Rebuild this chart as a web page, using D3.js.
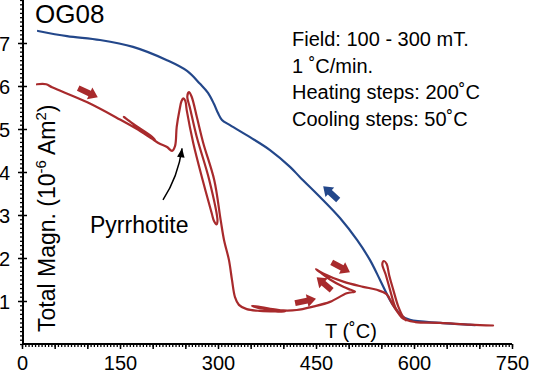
<!DOCTYPE html>
<html>
<head>
<meta charset="utf-8">
<script src="https://cdn.jsdelivr.net/npm/d3@7"></script>
<style>
  html, body { margin: 0; padding: 0; background: #fff; }
  svg { display: block; font-family: "Liberation Sans", Arial, Helvetica, sans-serif; }
</style>
</head>
<body>
<svg id="chart" width="533" height="374"></svg>
<script>
// Axis tick labels
const xTicks = [0, 150, 300, 450, 600, 750];
const yTicks = [1, 2, 3, 4, 5, 6, 7];

// Cooling curve (blue): temperature (°C) and total magnetisation (1e-6 Am²)
const coolT = [24.5, 68.9, 119.4, 169.9, 221.9, 252.6, 272.5, 284.7, 293.9, 300, 306.1, 318.4, 349, 379.6,
  410.2, 425.5, 456.1, 486.7, 512.8, 532.7, 548, 563.3, 570.9, 581.6, 593.9, 639.8, 693.4];
const coolM = [7.28, 7.16, 7.07, 6.91, 6.6, 6.35, 6.05, 5.84, 5.58, 5.37, 5.21, 5.09, 4.81, 4.51,
  4.12, 3.88, 3.42, 2.93, 2.42, 1.95, 1.49, 1.02, 0.84, 0.65, 0.56, 0.49, 0.44];

// Stepwise heating curve (red) with partial cooling loops
const heatT = [23, 37, 46, 100, 150, 178, 204, 199, 173, 156, 163, 208, 222, 229.6, 234.2, 236.8, 241.1,
  244.2, 246.9, 250, 252.1, 262.2, 276.6, 290.4, 293.9, 297.7, 299.2, 286.7, 267.4, 257.1, 253, 255.6,
  259.7, 267.9, 277.5, 294.3, 304.1, 309.2, 316.8, 321.4, 326, 332, 344, 364, 403, 380, 352, 366, 400,
  420.5, 445.4, 471.4, 497, 509.7, 503, 491.8, 471.4, 456, 450, 461, 491.8, 522, 543, 558, 566, 573,
  581, 588, 579, 571, 563.3, 557, 551.5, 554, 558.2, 562, 568.3, 576, 583.6, 590, 602, 640, 686, 721];
const heatM = [6.04, 6.04, 5.97, 5.62, 5.22, 4.98, 4.73, 4.82, 5.09, 5.28, 5.2, 4.68, 4.58, 4.49, 4.6, 5.05, 5.44,
  5.65, 5.71, 5.65, 5.44, 4.67, 3.81, 3.04, 2.86, 2.78, 2.86, 3.81, 4.82, 5.49, 5.75, 5.86,
  5.75, 5.26, 4.67, 3.81, 2.88, 2.42, 1.95, 1.49, 1.09, 0.91, 0.81, 0.77, 0.76, 0.82, 0.89, 0.83, 0.78,
  0.79, 0.87, 0.98, 1.18, 1.22, 1.26, 1.33, 1.5, 1.67, 1.74, 1.64, 1.45, 1.33, 1.26, 1.16, 0.95, 0.78,
  0.62, 0.55, 0.66, 0.87, 1.26, 1.6, 1.86, 1.93, 1.86, 1.6, 1.26, 0.87, 0.63, 0.55, 0.51, 0.49, 0.45, 0.43];

// Direction arrows: [T start, M start, T end, M end]
const heatArrows = [
  [86, 5.95, 116, 5.74],
  [418, 0.95, 450, 1.05],
  [474, 1.25, 451, 1.55],
  [474, 1.90, 502, 1.67]
];
const coolArrows = [
  [484, 3.35, 461, 3.67]
];

const infoLines = ["Field: 100 - 300 mT.", "1 ˚C/min.", "Heating steps: 200˚C", "Cooling steps: 50˚C"];

const RED = "#a82a2c";
const BLUE = "#23478a";

const svg = d3.select("#chart");
const x = d3.scaleLinear().domain([0, 750]).range([22, 512]);
const y = d3.scaleLinear().domain([0, 8]).range([344, 0]);

// ---- axes ----
const xMinor = svg.append("g").attr("transform", "translate(0,344)")
  .call(d3.axisBottom(x).tickValues(d3.range(0, 751, 5)).tickSize(3).tickFormat(""));
xMinor.select(".domain").remove();
xMinor.selectAll("line").attr("stroke-width", 1.3);

const xMajor = svg.append("g").attr("transform", "translate(0,344)")
  .call(d3.axisBottom(x).tickValues(d3.range(0, 751, 50)).tickSize(5)
    .tickFormat(d => xTicks.includes(d) ? d : ""));
xMajor.select(".domain").attr("d", `M${x(0)},0H${x(750)}`).attr("stroke-width", 2);
xMajor.selectAll("line").attr("stroke-width", 1.5);
xMajor.selectAll("text").attr("font-size", 20).attr("fill", "#000").attr("y", 12)
  .attr("font-family", "Liberation Sans, Arial, sans-serif");

const yMinor = svg.append("g").attr("transform", "translate(23,0)")
  .call(d3.axisLeft(y).tickValues(d3.range(0, 80.5, 1).map(v => v / 10)).tickSize(3).tickFormat(""));
yMinor.select(".domain").remove();
yMinor.selectAll("line").attr("stroke-width", 1.3);

const yMajor = svg.append("g").attr("transform", "translate(23,0)")
  .call(d3.axisLeft(y).tickValues(yTicks).tickSize(4).tickFormat(d3.format("d")));
yMajor.select(".domain").attr("d", `M0,${y(0)}V${y(8)}`).attr("stroke-width", 2);
yMajor.selectAll("line").attr("x1", 4).attr("x2", -5).attr("stroke-width", 1.5);
yMajor.selectAll("text").attr("font-size", 20).attr("fill", "#000").attr("x", -13).attr("dy", "0.36em")
  .attr("font-family", "Liberation Sans, Arial, sans-serif");

// ---- curves ----
const line = d3.line().x(d => x(d[0])).y(d => y(d[1])).curve(d3.curveCatmullRom.alpha(0.5));

svg.append("path").datum(d3.zip(coolT, coolM))
  .attr("d", line).attr("fill", "none").attr("stroke", BLUE).attr("stroke-width", 2.2)
  .attr("stroke-linejoin", "round").attr("stroke-linecap", "round");

svg.append("path").datum(d3.zip(heatT, heatM))
  .attr("d", line).attr("fill", "none").attr("stroke", RED).attr("stroke-width", 2.2)
  .attr("stroke-linejoin", "round").attr("stroke-linecap", "round");

// ---- block arrows showing the direction of each run ----
function blockArrow(a) {
  const x0 = x(a[0]), y0 = y(a[1]), x1 = x(a[2]), y1 = y(a[3]);
  const L = Math.hypot(x1 - x0, y1 - y0);
  const ux = (x1 - x0) / L, uy = (y1 - y0) / L, nx = -uy, ny = ux;
  const sw = 3, hw = 6.5, hl = 9;
  const pts = [
    [x0 + nx * sw, y0 + ny * sw],
    [x1 - ux * hl + nx * sw, y1 - uy * hl + ny * sw],
    [x1 - ux * hl + nx * hw, y1 - uy * hl + ny * hw],
    [x1, y1],
    [x1 - ux * hl - nx * hw, y1 - uy * hl - ny * hw],
    [x1 - ux * hl - nx * sw, y1 - uy * hl - ny * sw],
    [x0 - nx * sw, y0 - ny * sw]
  ];
  return "M" + pts.map(p => p.join(",")).join("L") + "Z";
}
svg.selectAll(".harrow").data(heatArrows).join("path").attr("class", "harrow")
  .attr("d", blockArrow).attr("fill", RED);
svg.selectAll(".carrow").data(coolArrows).join("path").attr("class", "carrow")
  .attr("d", blockArrow).attr("fill", BLUE);

// ---- Pyrrhotite annotation ----
const tail = [x(215.8), y(3.35)], ctrl = [x(239), y(3.9)], tip = [x(245), y(4.55)];
svg.append("path")
  .attr("d", `M${tail}Q${ctrl} ${tip}`)
  .attr("fill", "none").attr("stroke", "#000").attr("stroke-width", 1.5);
{
  const ang = Math.atan2(tip[1] - ctrl[1], tip[0] - ctrl[0]);
  const hl = 9, hw = 3.8;
  const bx = tip[0] - Math.cos(ang) * hl, by = tip[1] - Math.sin(ang) * hl;
  const nx = -Math.sin(ang), ny = Math.cos(ang);
  svg.append("path")
    .attr("d", `M${tip}L${bx + nx * hw},${by + ny * hw}L${bx - nx * hw},${by - ny * hw}Z`)
    .attr("fill", "#000");
}
svg.append("text").attr("x", 90).attr("y", 233).attr("font-size", 23).text("Pyrrhotite");

// ---- titles and notes ----
svg.append("text").attr("x", 35).attr("y", 23).attr("font-size", 26).text("OG08");

svg.append("g").selectAll("text").data(infoLines).join("text")
  .attr("x", 292).attr("y", (d, i) => 46 + i * 26.7).attr("font-size", 20).text(d => d);

svg.append("text").attr("x", 325).attr("y", 338).attr("font-size", 20).text("T (˚C)");

const yl = svg.append("text").attr("transform", "translate(55,332) rotate(-90)").attr("font-size", 23);
yl.append("tspan").text("Total Magn. (10");
yl.append("tspan").attr("font-size", 15).attr("dy", -9).text("-6");
yl.append("tspan").attr("dy", 9).text(" Am");
yl.append("tspan").attr("font-size", 15).attr("dy", -9).text("2");
yl.append("tspan").attr("dy", 9).text(")");
</script>
</body>
</html>
